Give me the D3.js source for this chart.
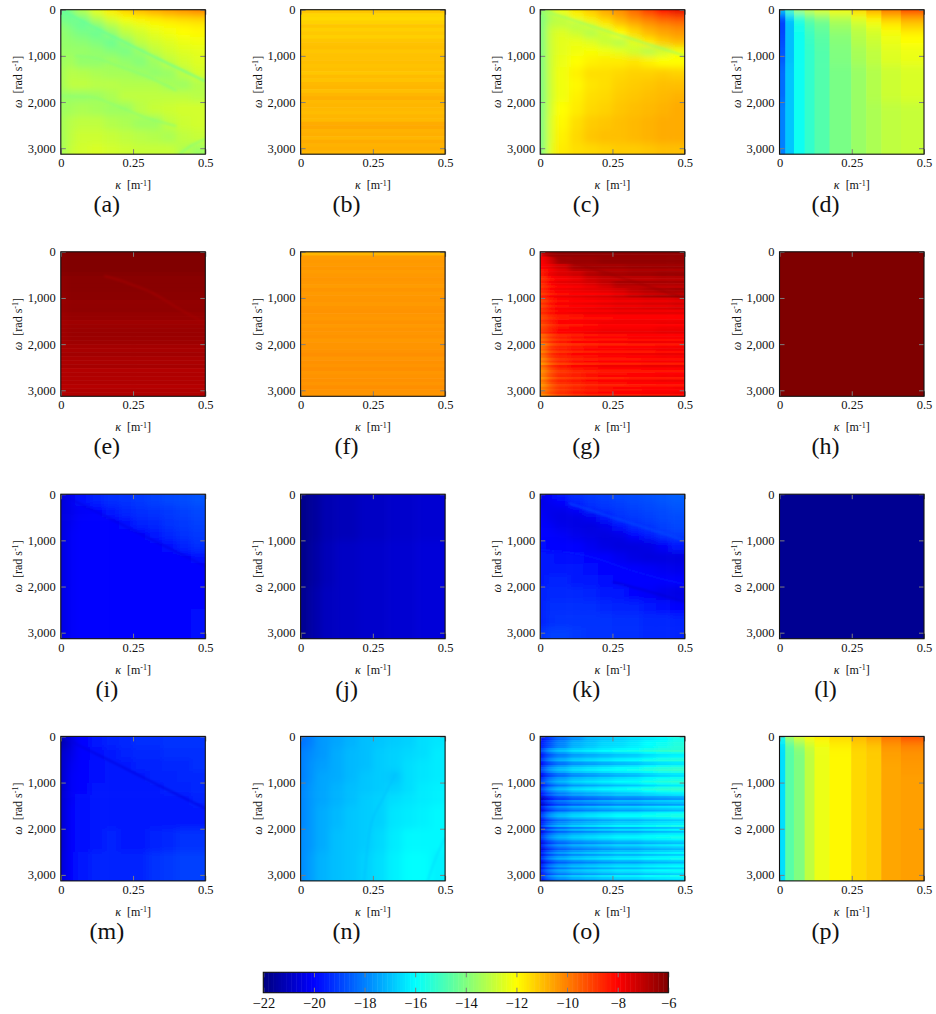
<!DOCTYPE html>
<html>
<head>
<meta charset="utf-8">
<script src="https://cdn.jsdelivr.net/npm/d3@7"></script>
<style>
html,body{margin:0;padding:0;background:#fff;}
svg{display:block;}
text{font-family:"Liberation Serif",serif;fill:#111;}
</style>
</head>
<body>
<script>
// ---------- shared axes and bins ----------
const panelLetters = ["a","b","c","d","e","f","g","h","i","j","k","l","m","n","o","p"];
const kappaDomain = [0, 0.5];
const omegaDomain = [0, 3130];
const kappaTicks = [0, 0.25, 0.5];
const kappaTickLabels = ["0", "0.25", "0.5"];
const omegaTicks = [0, 1000, 2000, 3000];
const colorbarTicks = [-22,-20,-18,-16,-14,-12,-10,-8,-6];
const jetStops = [-22,-20,-16,-12,-8,-6];
const jetColors = ["#00007f","#0000ff","#00ffff","#ffff00","#ff0000","#7f0000"];

const kBins = [0,.02,.05,.1,.15,.2,.25,.3,.35,.4,.45,.5];
const kBands = [0,.02,.05,.087,.121,.173,.248,.30,.352,.42,.5];
const kWhole = [0,.5];
const kLeftEdge = [0,.02,.25,.5];
const kSteps = [0,.03,.07,.12,.2,.3,.4,.5];
const wFine = [0,100,250,400,600,800,1000,1250,1500,1750,2000,2300,2600,2900,3130];
const wMid = [0,250,500,750,1000,1250,1500,2000,2500,3130];
const wBands = [0,50,150,300,500,800,1200,2000,3130];
const wWhole = [0,3130];
const wThirds = [0,1000,2000,3130];
const wQuarter = [0,800,1600,2400,3130];
const wSeven = [0,100,500,1000,1500,2000,2500,3130];
const wTopStrip = [0,100,1000,2000,3130];

const values_a = [
[-14.4,-14.0,-13.2,-12.4,-11.7,-11.2,-10.8,-10.6,-10.4,-10.2,-10.0],
[-14.2,-14.4,-14.0,-13.1,-12.5,-12.1,-11.8,-11.6,-11.4,-11.3,-11.2],
[-13.9,-14.1,-14.4,-13.8,-13.1,-12.6,-12.3,-12.1,-11.9,-11.8,-11.7],
[-13.7,-13.9,-14.1,-14.3,-13.7,-13.0,-12.7,-12.4,-12.2,-12.0,-11.9],
[-13.7,-13.7,-13.8,-14.0,-14.3,-13.7,-13.0,-12.7,-12.5,-12.3,-12.2],
[-13.6,-13.6,-13.6,-13.7,-13.9,-14.1,-13.6,-13.0,-12.7,-12.5,-12.4],
[-13.5,-13.4,-13.7,-13.7,-13.5,-13.7,-13.9,-13.5,-13.0,-12.7,-12.5],
[-13.4,-13.1,-13.2,-13.3,-13.4,-13.4,-13.5,-13.7,-13.6,-13.1,-12.7],
[-13.4,-13.0,-13.0,-13.1,-13.1,-13.2,-13.2,-13.2,-13.4,-13.5,-13.2],
[-13.6,-13.6,-13.6,-13.5,-13.3,-13.0,-13.0,-13.0,-13.0,-13.0,-13.1],
[-13.5,-13.4,-13.3,-13.4,-13.5,-13.5,-13.1,-12.9,-12.8,-12.7,-12.7],
[-13.4,-13.1,-13.0,-13.0,-13.2,-13.3,-13.5,-13.5,-13.0,-12.8,-12.7],
[-13.4,-13.0,-12.8,-12.8,-12.9,-13.0,-13.1,-13.2,-13.3,-13.0,-12.9],
[-13.4,-12.9,-12.7,-12.6,-12.7,-12.8,-12.9,-12.9,-12.9,-13.2,-13.5]];
const values_c = [
[-13.8,-13,-12.2,-11.6,-11.1,-10.6,-10.2,-9.6,-8.9,-8.0,-7.6],
[-14,-13.3,-13,-12.2,-11.7,-11.2,-10.7,-10.2,-9.8,-9.4,-9.2],
[-14,-13,-13,-13.2,-12.6,-11.8,-11.2,-10.8,-10.4,-10.1,-9.9],
[-14,-12.8,-12.5,-12.8,-13.2,-12.8,-12,-11.4,-10.9,-10.6,-10.4],
[-14,-12.8,-12.4,-12.3,-12.5,-12.9,-13.2,-12.5,-11.7,-11.2,-10.9],
[-14,-12.8,-12.4,-12.2,-12.1,-12.2,-12.4,-12.8,-13.2,-12.8,-12.2],
[-14,-12.8,-12.3,-12,-11.8,-11.7,-11.7,-11.6,-11.8,-12,-12],
[-14,-12.8,-12.2,-11.8,-11.5,-11.5,-11.4,-11.3,-11.3,-11.2,-11.3],
[-14,-12.8,-12.2,-11.9,-11.6,-11.5,-11.3,-11.2,-11.1,-11,-11],
[-14,-12.8,-12.2,-11.8,-11.5,-11.4,-11.2,-11.1,-11,-10.9,-10.8],
[-14,-12.7,-12,-11.7,-11.4,-11.3,-11.1,-11,-10.9,-10.8,-10.7],
[-14,-12.6,-11.9,-11.5,-11.2,-11.1,-11,-10.9,-10.8,-10.7,-10.7],
[-14,-12.6,-11.8,-11.4,-11.1,-11,-11,-10.9,-10.8,-10.7,-10.7],
[-14,-12.5,-11.7,-11.5,-11.4,-11.3,-11.2,-11.2,-11.1,-11,-11]];
const values_d = [
[-16.5,-14.5,-13,-12.6,-12.3,-11.9,-11,-10.4,-9.6,-8.6],
[-18.5,-16.3,-15,-14,-13.3,-12.7,-12,-11.2,-10.4,-9.8],
[-19,-17,-15.5,-14.6,-14.2,-13.3,-12.6,-12,-11.3,-10.8],
[-19,-17,-15.7,-14.9,-14.4,-13.6,-13,-12.5,-11.9,-11.4],
[-18.8,-17,-15.8,-15.1,-14.6,-13.9,-13.2,-12.8,-12.3,-12],
[-18.6,-17,-15.8,-15.2,-14.7,-14,-13.4,-13,-12.5,-12.3],
[-18.3,-16.9,-15.8,-15.2,-14.7,-14.1,-13.6,-13.2,-12.8,-12.6],
[-18,-16.9,-15.8,-15.2,-14.7,-14.1,-13.6,-13.3,-13,-12.9]];
const values_p = [
[-15.5,-13.2,-12.4,-11.9,-11.6,-11.3,-10.8,-10.3,-9.6,-9.0],
[-16.2,-14.2,-13.2,-12.4,-12,-11.6,-11.1,-10.8,-10.1,-9.7],
[-16.5,-14.6,-13.8,-12.9,-12.3,-11.8,-11.3,-11.1,-10.4,-10.1],
[-16.5,-14.6,-14,-13,-12.3,-11.9,-11.4,-11.2,-10.5,-10.3],
[-16.5,-14.6,-14,-13,-12.3,-11.9,-11.4,-11.2,-10.6,-10.4],
[-16.5,-14.6,-14,-13,-12.3,-11.9,-11.4,-11.2,-10.6,-10.5],
[-16.5,-14.6,-14,-13,-12.3,-11.9,-11.4,-11.2,-10.6,-10.5],
[-16.5,-14.6,-14,-13,-12.3,-11.9,-11.4,-11.2,-10.6,-10.5]];
const values_b = [[-11.2],[-11.05],[-10.95],[-10.85]];
const stripes_b = [.1,-.15,-.2,-.1,.1,-.05,.05,-.05,.1,.15,.05,-.05,0,0,.05,0,.05,-.05,.1,0,.05,.1,-.05,.1,.2,.05,.1,.05,0,.1,.05,.15,.2,.05,.1,0,.15,.05,.1,0];
const values_e = [
[-6.1,-6,-6],[-6.1,-6.03,-6.03],[-6.25,-6.15,-6.15],[-6.4,-6.3,-6.3],
[-6.55,-6.45,-6.45],[-6.65,-6.6,-6.6],[-6.85,-6.8,-6.8]];
const stripes_e = [0,0,0,0,0,-.06,0,0,0,0,-.03,-.04,0,.02,.03,-.04,-.06,-.05,0,.03,.04,.02,-.03,.02,-.02,.05,-.05,-.08,-.02,0,.05,.02,.03,-.04,.02,.03];
const values_f = [[-10.7],[-10.4],[-10.35],[-10.3]];
const stripes_f = [-.15,-.05,0,-.03,.03,-.05,0,.05,.02,-.05,.06,-.02,.03,0,-.06,.02,.05,0,-.04,.04,-.05,.03,0,.05,-.05,.02,-.04,0,.05,-.05,.03,-.02,.05,-.06,0,.03,-.03,.05,0,-.03];
const values_g = [
[-7.5,-6.6,-6.3,-6.3,-6.3,-6.3,-6.3,-6.3,-6.3,-6.3,-6.3],
[-8,-7.4,-6.6,-6.5,-6.5,-6.4,-6.4,-6.4,-6.4,-6.4,-6.4],
[-8.2,-7.8,-7.4,-6.8,-6.7,-6.7,-6.7,-6.6,-6.6,-6.6,-6.6],
[-8.6,-8,-7.7,-7.5,-7.1,-6.9,-6.9,-6.8,-6.8,-6.7,-6.7],
[-8.8,-8.2,-7.9,-7.8,-7.6,-7.3,-6.9,-6.9,-6.9,-6.9,-6.9],
[-8.8,-8.3,-8,-7.9,-7.8,-7.7,-7.5,-7.2,-7,-6.9,-6.8],
[-9,-8.4,-8.1,-8,-7.9,-7.8,-7.7,-7.7,-7.6,-7.6,-7.5],
[-9,-8.5,-8.2,-8.1,-8,-8,-7.9,-7.9,-7.9,-7.9,-7.9],
[-9.2,-8.7,-8.3,-8.2,-8.1,-8,-8,-8,-8,-7.9,-7.9],
[-9.6,-8.9,-8.5,-8.3,-8.2,-8.1,-8.1,-8,-8,-8,-8],
[-9.9,-9,-8.6,-8.4,-8.3,-8.2,-8.2,-8.1,-8.1,-8,-8],
[-10.1,-9.2,-8.7,-8.4,-8.3,-8.2,-8.2,-8.2,-8.1,-8.1,-8.1],
[-10.2,-9.3,-8.8,-8.6,-8.4,-8.3,-8.3,-8.2,-8.2,-8.1,-8.1],
[-10.2,-9.5,-9,-8.7,-8.5,-8.4,-8.3,-8.3,-8.2,-8.2,-8.1]];
const stripes_g = [0,0,.05,.1,.05,.1,.2,-.1,.2,.3,-.1,-.2,.3,.1,-.1,.2,.1,-.2,.3,.1,-.1,.2,-.1,.2,.1,.3,-.1,-.2,.1,.2,-.1,.1,.2,.3,-.1,.1,-.2,.2,-.3,.1,.2,-.2,.3,.1,-.1,.2,-.3,.4,.1,-.2,.1,.2,-.2,.3,.1,-.2,.2,.1,.3,-.1];
const values_h = [[-6]];
const values_i = [
[-20.6,-20.2,-19.8,-19.5,-19.3,-19.2,-19.1,-19,-18.9,-18.8,-18.7],
[-20.5,-20.3,-20.1,-19.9,-19.6,-19.4,-19.3,-19.2,-19.1,-19,-18.9],
[-20.5,-20.2,-20,-20,-20,-19.8,-19.5,-19.4,-19.2,-19.1,-19],
[-20.5,-20.1,-20,-20,-20,-20,-19.9,-19.6,-19.4,-19.2,-19.1],
[-20.5,-20.1,-20,-19.9,-19.9,-20,-20,-20,-19.8,-19.5,-19.3],
[-20.5,-20.1,-20,-19.9,-19.9,-19.9,-20,-20,-20,-20,-19.8],
[-20.5,-20.1,-20,-19.9,-19.9,-19.9,-20,-19.9,-19.9,-19.9,-20],
[-20.4,-20.1,-20,-19.9,-19.9,-19.9,-19.9,-19.9,-19.9,-19.9,-19.9],
[-20.4,-20.1,-20,-19.9,-19.9,-19.9,-19.9,-19.9,-19.9,-19.9,-19.8]];
const values_j = [
[-21.8,-21.5,-21.2,-21.1,-20.9,-20.8,-20.7],
[-21.8,-21.4,-21.1,-20.9,-20.8,-20.7,-20.6],
[-21.7,-21.3,-21,-20.9,-20.8,-20.7,-20.6]];
const values_k = [
[-20.3,-19.9,-19.6,-19.3,-19.1,-19,-18.9,-18.8,-18.7,-18.6,-18.5],
[-20.4,-20.2,-19.9,-19.5,-19.2,-19.1,-19,-18.9,-18.8,-18.7,-18.6],
[-20.2,-20.3,-20.3,-20,-19.4,-19.2,-19.1,-19,-18.9,-18.8,-18.7],
[-20.1,-20.3,-20.4,-20.4,-20.2,-19.6,-19.2,-19.1,-19,-18.9,-18.8],
[-20,-20.1,-20.3,-20.4,-20.5,-20.3,-19.8,-19.4,-19.2,-19,-18.9],
[-19.9,-20,-20.1,-20.3,-20.4,-20.5,-20.4,-20,-19.6,-19.3,-19.1],
[-19.8,-19.9,-20,-20,-20.2,-20.4,-20.5,-20.5,-20.4,-20.1,-19.6],
[-19.7,-19.7,-19.8,-19.8,-19.9,-20,-20.2,-20.4,-20.5,-20.5,-20.5],
[-19.7,-19.6,-19.7,-19.7,-19.8,-19.9,-19.9,-20,-20.1,-20.2,-20.3],
[-19.6,-19.5,-19.5,-19.6,-19.7,-19.8,-19.9,-20,-20,-20,-20],
[-19.5,-19.4,-19.4,-19.4,-19.5,-19.6,-19.7,-19.9,-20.1,-20.3,-20.4],
[-19.5,-19.3,-19.3,-19.3,-19.3,-19.4,-19.5,-19.5,-19.6,-19.8,-20],
[-19.5,-19.3,-19.2,-19.2,-19.2,-19.2,-19.3,-19.3,-19.4,-19.4,-19.5],
[-19.2,-19,-19,-19.1,-19.2,-19.2,-19.3,-19.3,-19.4,-19.4,-19.5]];
const values_l = [[-21.7]];
const values_m = [
[-21.2,-20.6,-20,-19.7,-19.5,-19.4,-19.3,-19.3,-19.2,-19.2,-19.2],
[-20.8,-20.4,-20,-19.8,-19.6,-19.5,-19.4,-19.4,-19.3,-19.3,-19.3],
[-20.8,-20.2,-19.9,-19.8,-19.7,-19.6,-19.5,-19.5,-19.4,-19.4,-19.3],
[-20.8,-20.1,-19.9,-19.8,-19.7,-19.7,-19.6,-19.5,-19.5,-19.4,-19.4],
[-20.8,-20.1,-19.9,-19.7,-19.7,-19.7,-19.7,-19.6,-19.5,-19.5,-19.4],
[-20.7,-20.1,-19.8,-19.7,-19.6,-19.6,-19.6,-19.6,-19.6,-19.6,-19.5],
[-20.7,-20,-19.8,-19.6,-19.6,-19.6,-19.6,-19.6,-19.6,-19.6,-19.6],
[-20.7,-20,-19.8,-19.6,-19.5,-19.6,-19.6,-19.5,-19.4,-19.2,-19.2],
[-20.6,-20,-19.7,-19.5,-19.5,-19.5,-19.5,-19.2,-19.1,-19,-19]];
const values_n = [
[-18.2,-18,-17.6,-17.4,-17.2,-17,-16.9,-16.8,-16.7,-16.5,-16.4],
[-18,-17.8,-17.6,-17.3,-17.1,-17,-16.8,-16.7,-16.6,-16.5,-16.3],
[-18,-17.7,-17.5,-17.3,-17.1,-17,-16.8,-16.7,-16.5,-16.4,-16.3],
[-18,-17.7,-17.4,-17.3,-17.1,-16.9,-16.8,-16.9,-16.5,-16.4,-16.3],
[-17.9,-17.6,-17.4,-17.2,-17,-16.9,-16.8,-16.7,-16.5,-16.3,-16.2],
[-17.9,-17.6,-17.4,-17.2,-17,-16.8,-16.7,-16.5,-16.4,-16.3,-16.2],
[-17.9,-17.6,-17.3,-17.1,-16.9,-16.8,-16.7,-16.4,-16.3,-16.2,-16.1],
[-17.8,-17.6,-17.3,-17,-16.9,-16.8,-16.6,-16.3,-16.1,-16.1,-16.1],
[-17.8,-17.5,-17.2,-17,-16.9,-16.7,-16.5,-16.2,-16,-16,-16.2]];
const values_o = [
[-19.8,-19,-18.2,-17.6,-17,-16.8,-16.6,-16.4,-16.2,-16,-15.6],
[-19.8,-18.8,-18,-17.3,-17,-16.7,-16.6,-16.4,-16.1,-15.9,-15.6],
[-19.6,-18.3,-17.7,-17.2,-17,-16.8,-16.6,-16.5,-16.2,-16,-15.9],
[-19.6,-18.3,-17.7,-17.2,-17,-16.8,-16.6,-16.5,-16.2,-16,-15.9],
[-19.6,-18.3,-17.7,-17.2,-17,-16.8,-16.6,-16.5,-16.2,-16,-15.9],
[-19.6,-18.3,-17.7,-17.2,-17,-16.8,-16.6,-16.5,-16.2,-16,-15.9],
[-19.6,-18.3,-17.7,-17.2,-17,-16.8,-16.6,-16.5,-16.2,-16,-15.9],
[-19.8,-18.4,-17.8,-17.4,-17.2,-17,-16.8,-16.8,-16.6,-16.5,-16.4],
[-19.8,-18.4,-17.8,-17.4,-17.2,-17,-16.8,-16.8,-16.6,-16.5,-16.4],
[-19.8,-18.4,-17.8,-17.4,-17.2,-17,-16.8,-16.8,-16.6,-16.5,-16.4],
[-19.8,-18.4,-17.8,-17.4,-17.2,-17,-16.8,-16.8,-16.6,-16.5,-16.4],
[-19.8,-18.4,-17.8,-17.4,-17.2,-17,-16.8,-16.8,-16.6,-16.5,-16.4],
[-19.8,-18.4,-17.8,-17.4,-17.2,-17,-16.8,-16.8,-16.6,-16.5,-16.4],
[-19.8,-18.4,-17.8,-17.4,-17.2,-17,-16.8,-16.8,-16.6,-16.5,-16.4]];
const stripes_o = [0,-.1,0,.1,.1,.2,.5,.8,.2,-.3,-.2,.3,.5,-.4,-.5,.2,.6,.7,.3,-.4,-.6,.1,.3,.6,.2,-.4,.4,.7,.2,-.3,-.1,-.9,-1.2,-.3,-.6,-1.1,.1,-.3,-.7,.3,.7,.8,.2,-.4,0,.2,.7,-.5,.3,-.6,.1,.5,.7,.3,-.3,-.6,.2,-.3,-.7,-.2,.3,-.4,.3,.6,-.2,-.7,.1,.4,-.3,.5,.2,-.3,.6,.2,-.2];

// ---------- ridge curves: level, then [kappa, omega] points ----------
const ridges_a = [
 {level:-14.5, pts:[[0,0],[.1,330],[.2,640],[.3,950],[.4,1250],[.5,1550]]},
 {level:-13.9, pts:[[.05,1000],[.12,1050],[.2,1220],[.3,1450],[.4,1750]]},
 {level:-13.8, pts:[[0,1870],[.1,1890],[.2,2100],[.3,2350],[.4,2520]]},
 {level:-13.9, pts:[[.41,3130],[.45,2950],[.5,2800]]}];
const ridges_c = [{level:-13.6, pts:[[0,0],[.1,200],[.2,400],[.3,600],[.4,800],[.5,1000]]}];
const ridges_e = [{level:-6.6, pts:[[.15,520],[.2,610],[.25,720],[.32,900],[.4,1200],[.5,1550]]}];
const ridges_g = [{level:-6.4, pts:[[0,0],[.1,200],[.2,400],[.3,600],[.4,800],[.5,1000]]}];
const ridges_i = [{level:-20.4, pts:[[0,0],[.1,310],[.2,620],[.3,940],[.4,1250],[.5,1560]]}];
const ridges_k = [
 {level:-18.8, pts:[[.1,200],[.2,400],[.3,600],[.4,800],[.5,1000]]},
 {level:-19.7, pts:[[0,1200],[.1,1260],[.2,1400],[.3,1620],[.4,1800],[.5,1950]]},
 {level:-20.7, pts:[[.25,1900],[.3,1980],[.4,2150],[.5,2330]]}];
const ridges_m = [{level:-20.5, pts:[[0,0],[.1,310],[.2,620],[.3,940],[.4,1250],[.5,1560]]}];
const ridges_n = [
 {level:-16.95, pts:[[.33,800],[.28,1400],[.24,2000],[.22,3130]]},
 {level:-16.5, pts:[[.5,2200],[.47,2600],[.44,3130]]}];

// ---------- which bins and extras each panel uses ----------
const panels = [
 {id:"a", k:kBins, w:wFine, v:values_a, ridges:ridges_a},
 {id:"b", k:kWhole, w:wQuarter, v:values_b, stripes:stripes_b},
 {id:"c", k:kBins, w:wFine, v:values_c, ridges:ridges_c},
 {id:"d", k:kBands, w:wBands, v:values_d, sharp:true},
 {id:"e", k:kLeftEdge, w:wSeven, v:values_e, stripes:stripes_e, ridges:ridges_e},
 {id:"f", k:kWhole, w:wTopStrip, v:values_f, stripes:stripes_f},
 {id:"g", k:kBins, w:wFine, v:values_g, stripes:stripes_g, ridges:ridges_g},
 {id:"h", k:kWhole, w:wWhole, v:values_h},
 {id:"i", k:kBins, w:wMid, v:values_i, ridges:ridges_i},
 {id:"j", k:kSteps, w:wThirds, v:values_j},
 {id:"k", k:kBins, w:wFine, v:values_k, ridges:ridges_k},
 {id:"l", k:kWhole, w:wWhole, v:values_l},
 {id:"m", k:kBins, w:wMid, v:values_m, ridges:ridges_m},
 {id:"n", k:kBins, w:wMid, v:values_n, ridges:ridges_n},
 {id:"o", k:kBins, w:wFine, v:values_o, stripes:stripes_o},
 {id:"p", k:kBands, w:wBands, v:values_p, sharp:true}
];

// ---------- layout ----------
const W = 936, H = 1014;
const colLefts = [60.8, 300.6, 540.2, 779.5];
const rowTops = [9.7, 251.8, 494.2, 736.4];
const pw = 144.5, ph = 144.5;

const color = d3.scaleLinear().domain(jetStops).range(jetColors).clamp(true);

const svg = d3.select("body").append("svg").attr("width", W).attr("height", H);
const defs = svg.append("defs");
function blurFilter(id, sd) {
  const f = defs.append("filter").attr("id", id)
    .attr("x", "-30%").attr("y", "-30%").attr("width", "160%").attr("height", "160%");
  f.append("feGaussianBlur").attr("stdDeviation", sd);
}
blurFilter("blurSmooth", "3.6");
blurFilter("blurStripes", "3 0.35");
blurFilter("blurSharp", "0.7 5");
blurFilter("blurRidge", "0.9");

const pad = 16;
panels.forEach((p, idx) => {
  const left = colLefts[idx % 4], top = rowTops[Math.floor(idx / 4)];
  const x = d3.scaleLinear().domain(kappaDomain).range([0, pw]);
  const y = d3.scaleLinear().domain(omegaDomain).range([0, ph]);
  const g = svg.append("g").attr("transform", `translate(${left},${top})`);

  defs.append("clipPath").attr("id", "clip-" + p.id)
    .append("rect").attr("width", pw).attr("height", ph);
  const plot = g.append("g").attr("clip-path", `url(#clip-${p.id})`);

  // cells
  const nCols = p.k.length - 1;
  const cells = [];
  if (p.stripes) {
    const n = p.stripes.length;
    const dw = omegaDomain[1] / n;
    p.stripes.forEach((s, r) => {
      const wCentre = (r + 0.5) * dw;
      const base = Math.max(0, d3.bisectRight(p.w, wCentre) - 1);
      const baseRow = p.v[Math.min(base, p.v.length - 1)];
      for (let c = 0; c < nCols; c++) {
        cells.push({k0:p.k[c], k1:p.k[c+1], w0:r*dw, w1:(r+1)*dw, val:baseRow[c] + s, c, r, nr:n});
      }
    });
  } else {
    p.v.forEach((row, r) => row.forEach((val, c) => {
      cells.push({k0:p.k[c], k1:p.k[c+1], w0:p.w[r], w1:p.w[r+1], val, c, r, nr:p.v.length});
    }));
  }
  const blurId = p.stripes ? "blurStripes" : p.sharp ? "blurSharp" : "blurSmooth";
  plot.append("g").attr("filter", `url(#${blurId})`)
    .selectAll("rect").data(cells).join("rect")
    .attr("x", d => d.c === 0 ? x(d.k0) - pad : x(d.k0))
    .attr("y", d => d.r === 0 ? y(d.w0) - pad : y(d.w0))
    .attr("width", d => x(d.k1) - x(d.k0) + (d.c === 0 ? pad : 0) + (d.c === nCols - 1 ? pad : 0.6))
    .attr("height", d => y(d.w1) - y(d.w0) + (d.r === 0 ? pad : 0) + (d.r === d.nr - 1 ? pad : 0.6))
    .attr("fill", d => color(d.val));

  // ridge curves
  if (p.ridges) {
    const line = d3.line().x(d => x(d[0])).y(d => y(d[1])).curve(d3.curveMonotoneX);
    plot.append("g").attr("filter", "url(#blurRidge)")
      .selectAll("path").data(p.ridges).join("path")
      .attr("d", d => line(d.pts))
      .attr("fill", "none")
      .attr("stroke", d => color(d.level))
      .attr("stroke-width", 1.8)
      .attr("stroke-opacity", 0.75);
  }

  // axes with inward grey ticks
  const tickStyle = a => {
    a.select(".domain").remove();
    a.selectAll(".tick line").attr("stroke", "#7d7d7d").attr("stroke-width", 1);
    a.selectAll(".tick text").attr("fill", "#111").style("font-size", "12.5px")
      .style("font-family", '"Liberation Serif",serif');
  };
  g.append("g").attr("transform", `translate(0,${ph})`)
    .call(d3.axisBottom(x).tickValues(kappaTicks).tickSize(-5).tickPadding(4)
      .tickFormat((d, i) => kappaTickLabels[i])).call(tickStyle);
  g.append("g")
    .call(d3.axisTop(x).tickValues(kappaTicks).tickSize(-5).tickFormat("")).call(tickStyle);
  g.append("g")
    .call(d3.axisLeft(y).tickValues(omegaTicks).tickSize(-5).tickPadding(5)
      .tickFormat(d3.format(","))).call(tickStyle);
  g.append("g").attr("transform", `translate(${pw},0)`)
    .call(d3.axisRight(y).tickValues(omegaTicks).tickSize(-5).tickFormat("")).call(tickStyle);

  g.append("rect").attr("width", pw).attr("height", ph)
    .attr("fill", "none").attr("stroke", "#111").attr("stroke-width", 1.1);

  // x label
  const xl = g.append("text").attr("x", pw / 2).attr("y", ph + 35)
    .attr("text-anchor", "middle").style("font-size", "12px");
  xl.append("tspan").style("font-style", "italic").text("\u03BA");
  xl.append("tspan").attr("dx", 6).text("[m");
  xl.append("tspan").attr("dy", -3.5).style("font-size", "8px").text("-1");
  xl.append("tspan").attr("dy", 3.5).text("]");

  // y label
  const yl = g.append("text")
    .attr("transform", `translate(-39,${ph / 2}) rotate(-90)`)
    .attr("text-anchor", "middle").style("font-size", "12px");
  yl.append("tspan").style("font-style", "italic").text("\u03C9");
  yl.append("tspan").attr("dx", 6).text("[rad s");
  yl.append("tspan").attr("dy", -3.5).style("font-size", "8px").text("-1");
  yl.append("tspan").attr("dy", 3.5).text("]");

  // panel letter
  g.append("text").attr("x", 46).attr("y", ph + 58)
    .attr("text-anchor", "middle").style("font-size", "24px")
    .text("(" + panelLetters[idx] + ")");
});

// ---------- colour bar ----------
const cbLeft = 263.3, cbRight = 668.3, cbTop = 972.3, cbBottom = 992.7;
const cbScale = d3.scaleLinear().domain(d3.extent(colorbarTicks)).range([cbLeft, cbRight]);
const cb = svg.append("g");
const cbLevels = d3.range(-22, -6, 0.1);
cb.selectAll("rect.level").data(cbLevels).join("rect").attr("class", "level")
  .attr("x", d => cbScale(d)).attr("y", cbTop)
  .attr("width", d => cbScale(d + 0.1) - cbScale(d) + 0.5)
  .attr("height", cbBottom - cbTop)
  .attr("fill", d => color(d + 0.05));
const cbTicks = (sel) => {
  sel.select(".domain").remove();
  sel.selectAll(".tick line").attr("stroke", "#7d7d7d").attr("stroke-width", 1);
};
cb.append("g").attr("transform", `translate(0,${cbBottom})`)
  .call(d3.axisBottom(cbScale).tickValues(colorbarTicks).tickSize(-5).tickPadding(5)
    .tickFormat(d => "\u2212" + Math.abs(d)))
  .call(cbTicks)
  .call(a => a.selectAll(".tick text").attr("fill", "#111").style("font-size", "14.5px")
    .style("font-family", '"Liberation Serif",serif'));
cb.append("g").attr("transform", `translate(0,${cbTop})`)
  .call(d3.axisTop(cbScale).tickValues(colorbarTicks).tickSize(-5).tickFormat(""))
  .call(cbTicks);
cb.append("rect").attr("x", cbLeft).attr("y", cbTop)
  .attr("width", cbRight - cbLeft).attr("height", cbBottom - cbTop)
  .attr("fill", "none").attr("stroke", "#111").attr("stroke-width", 1.1);
</script>
</body>
</html>
